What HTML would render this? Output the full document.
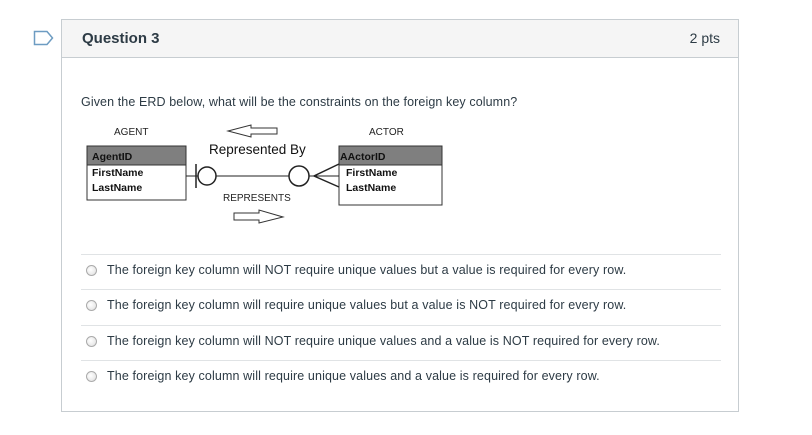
<!DOCTYPE html>
<html><head><style>
body{margin:0;width:812px;height:435px;background:#fff;font-family:"Liberation Sans",sans-serif;position:relative;overflow:hidden}
.card{position:absolute;left:61px;top:19px;width:678px;height:393px;border:1px solid #c7cdd1;box-sizing:border-box}
.hdr{height:37px;background:#f5f5f5;border-bottom:1px solid #c7cdd1;position:relative}
.hdr .t{position:absolute;left:20px;top:10px;font-size:15px;font-weight:bold;color:#2d3b45}
.hdr .p{position:absolute;right:18px;top:10px;font-size:14px;color:#2d3b45}
.q{position:absolute;left:19px;top:75px;font-size:12.5px;color:#2d3b45;letter-spacing:0.1px}
.opt{position:absolute;left:19px;width:640px;border-top:1px solid #e0e3e5;height:35px}
.opt .r{position:absolute;left:5px;top:10px;width:11px;height:11px;border-radius:50%;border:1px solid #aaa;background:radial-gradient(circle at 40% 40%,#fff,#ddd);box-sizing:border-box}
.opt .x{position:absolute;left:26px;top:8px;font-size:12.5px;color:#2d3b45;letter-spacing:0.12px;white-space:nowrap}
</style></head><body>
<svg style="position:absolute;left:33px;top:30px" width="22" height="16"><path d="M1.5 1.5H14L19.5 8 14 14.5H1.5Z" fill="none" stroke="#6d9cc2" stroke-width="1.5"/></svg>
<div class="card">
<div class="hdr"><span class="t">Question 3</span><span class="p">2 pts</span></div>
<div class="q">Given the ERD below, what will be the constraints on the foreign key column?</div>
<svg style="position:absolute;left:0;top:0" width="677" height="220" font-family="Liberation Sans,sans-serif">
<g transform="translate(-61,-19)">
<text x="113" y="134" font-size="10" fill="#222">AGENT</text>
<text x="368" y="134" font-size="10" fill="#222">ACTOR</text>
<rect x="86" y="145" width="99" height="54" fill="#fff" stroke="#333"/>
<rect x="86" y="145" width="99" height="19" fill="#7f7f7f" stroke="#333"/>
<text x="91" y="159" font-size="10.5" font-weight="bold" fill="#111">AgentID</text>
<text x="91" y="175" font-size="10.5" font-weight="bold" fill="#111">FirstName</text>
<text x="91" y="190" font-size="10.5" font-weight="bold" fill="#111">LastName</text>
<rect x="338" y="145" width="103" height="59" fill="#fff" stroke="#333"/>
<rect x="338" y="145" width="103" height="19" fill="#7f7f7f" stroke="#333"/>
<text x="339" y="159" font-size="10.5" font-weight="bold" fill="#111">AActorID</text>
<text x="345" y="175" font-size="10.5" font-weight="bold" fill="#111">FirstName</text>
<text x="345" y="190" font-size="10.5" font-weight="bold" fill="#111">LastName</text>
<line x1="185" y1="175" x2="338" y2="175" stroke="#222"/>
<line x1="195" y1="163" x2="195" y2="187" stroke="#222" stroke-width="1.5"/>
<circle cx="206" cy="175" r="9" fill="#fff" stroke="#222" stroke-width="1.5"/>
<circle cx="298" cy="175" r="10" fill="#fff" stroke="#222" stroke-width="1.5"/>
<path d="M338 163L313 175L338 186" fill="none" stroke="#222" stroke-width="1.5"/>
<text x="208" y="153" font-size="13.5" fill="#111">Represented By</text>
<text x="222" y="200" font-size="10" fill="#222">REPRESENTS</text>
<path d="M276 127H250V124L227 130L250 136V133H276Z" fill="#fff" stroke="#333"/>
<path d="M233 212H258V209L282 216L258 222V219H233Z" fill="#fff" stroke="#333"/>
</g></svg>
<div class="opt" style="top:234px"><span class="r"></span><span class="x">The foreign key column will NOT require unique values but a value is required for every row.</span></div>
<div class="opt" style="top:269px"><span class="r"></span><span class="x">The foreign key column will require unique values but a value is NOT required for every row.</span></div>
<div class="opt" style="top:305px"><span class="r"></span><span class="x">The foreign key column will NOT require unique values and a value is NOT required for every row.</span></div>
<div class="opt" style="top:340px"><span class="r"></span><span class="x">The foreign key column will require unique values and a value is required for every row.</span></div>
</div>
</body></html>
